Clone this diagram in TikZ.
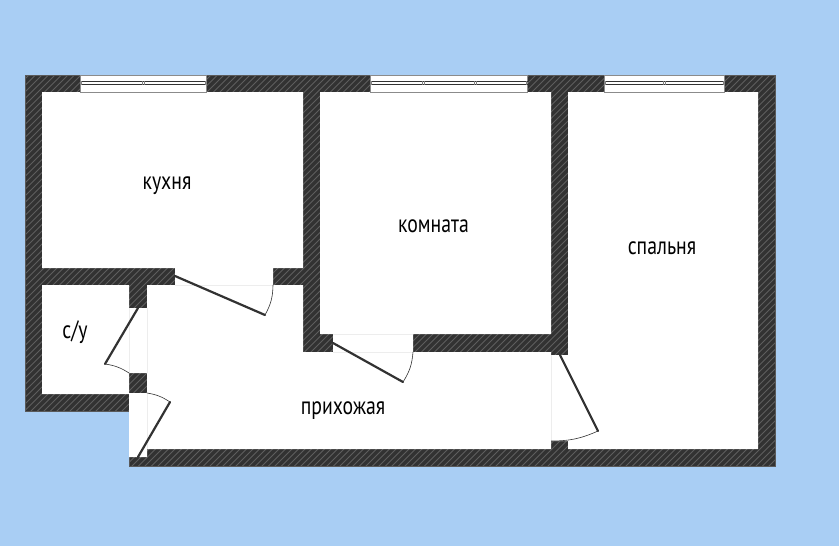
\documentclass[tikz,border=0pt]{standalone}
\usepackage{fontspec}
\setmainfont{PT Sans}
\newfontfamily\labelfont[FakeStretch=0.79]{PT Sans}
\definecolor{bgblue}{HTML}{A9CEF4}
\definecolor{wallc}{HTML}{323232}
\definecolor{hatchc}{HTML}{5E5E5E}
\definecolor{edgec}{HTML}{5A5A5A}
\definecolor{gapc}{HTML}{EDEDED}
\tikzset{
  doorleaf/.style={draw=wallc,line width=2.2pt,line cap=round},
  doorarc/.style={draw=wallc,line width=0.6pt},
  gapline/.style={draw=gapc,line width=0.7pt},
  roomlabel/.style={font=\labelfont\fontsize{25}{28}\selectfont,text=black,inner sep=0pt,anchor=base},
  winbox/.style={draw=edgec!70,line width=0.8pt,fill=white},
  winline/.style={draw=wallc,line width=0.9pt},
  wintick/.style={draw=gray,line width=0.9pt}
}
\newcommand{\outerpoly}{(25,75) -- (775,75) -- (775,466) -- (129,466) -- (129,411) -- (25,411) -- cycle}
\newcommand{\winmk}[2]{% x0,x1
  \path[winbox] (#1,75) rectangle (#2,92);
  \draw[winline] (#1,81) -- (#2,81);
  \draw[winline] (#1,84.5) -- (#2,84.5);
  \draw[wintick] (#1+1,81) -- (#1+1,84.5);
  \draw[wintick] (#2-1,81) -- (#2-1,84.5);
}
\newcommand{\wintk}[1]{\draw[wintick] (#1,81) -- (#1,84.5);}
\begin{document}
\begin{tikzpicture}[x=1pt,y=-1pt]
\useasboundingbox (0,0) rectangle (839,546);
\fill[bgblue] (0,0) rectangle (839,546);
% walls
\fill[wallc] \outerpoly;
\begin{scope}
  \clip \outerpoly;
  \foreach \k in {0,6.5,...,1300}
    \draw[hatchc,line width=0.8pt] (\k,0) -- (\k-546,546);
\end{scope}
\draw[edgec,line width=0.6pt] \outerpoly;
% rooms
\fill[white] (42,92) -- (303,92) -- (303,268) -- (273,268) -- (273,285) -- (303,285) -- (303,352) -- (333,352) -- (333,334) -- (320,334) -- (320,92) -- (551,92) -- (551,334) -- (413,334) -- (413,352) -- (551,352) -- (551,355) -- (568,355) -- (568,92) -- (758,92) -- (758,449) -- (568,449) -- (568,441) -- (551,441) -- (551,449) -- (147,449) -- (147,457) -- (129,457) -- (129,393) -- (147,393) -- (147,373) -- (129,373) -- (129,394) -- (42,394) -- (42,285) -- (129,285) -- (129,308) -- (147,308) -- (147,285) -- (175,285) -- (175,268) -- (42,268) -- cycle;
% pale lines across the door openings
\draw[gapline] (175,285) -- (273,285);
\draw[gapline] (333,334) -- (413,334);
\draw[gapline] (333,352) -- (413,352);
\draw[gapline] (129,308) -- (129,373);
\draw[gapline] (147,308) -- (147,373);
\draw[gapline] (147,393) -- (147,449);
\draw[gapline] (551,355) -- (551,441);
% windows
\winmk{80.5}{206}\wintk{142}\wintk{144.5}
\winmk{370.5}{527.5}\wintk{422}\wintk{424.5}\wintk{474}\wintk{476.5}
\winmk{604.5}{724}\wintk{663}\wintk{665.5}
% doors
\coordinate (d1h) at (175,276); \coordinate (d1l) at (265,315); \coordinate (d1j) at (273,285);
\coordinate (d2h) at (333,343); \coordinate (d2l) at (403,382); \coordinate (d2j) at (413,352);
\coordinate (d3h) at (138,308); \coordinate (d3l) at (105,364); \coordinate (d3j) at (129,373);
\coordinate (d4h) at (138,457); \coordinate (d4l) at (170,402); \coordinate (d4j) at (147,393);
\coordinate (d5h) at (560,355); \coordinate (d5l) at (598,431); \coordinate (d5j) at (551,441);
\draw[doorleaf] (d1h) -- (d1l);
\draw[doorarc] (d1l) to[bend right=14] (d1j);
\draw[doorleaf] (d2h) -- (d2l);
\draw[doorarc] (d2l) to[bend right=14] (d2j);
\draw[doorleaf] (d3h) -- (d3l);
\draw[doorarc] (d3l) to[bend left=12] (d3j);
\draw[doorleaf] (d4h) -- (d4l);
\draw[doorarc] (d4l) to[bend right=12] (d4j);
\draw[doorleaf] (d5h) -- (d5l);
\draw[doorarc] (d5l) to[bend left=12] (d5j);
% labels
\node[roomlabel] (kitchen) at (167,189) {кухня};
\node[roomlabel] (room) at (433.5,232) {комната};
\node[roomlabel] (bedroom) at (662,254) {спальня};
\node[roomlabel] (wc) at (75,338) {с/у};
\node[roomlabel] (hall) at (343,414) {прихожая};
\end{tikzpicture}
\end{document}
